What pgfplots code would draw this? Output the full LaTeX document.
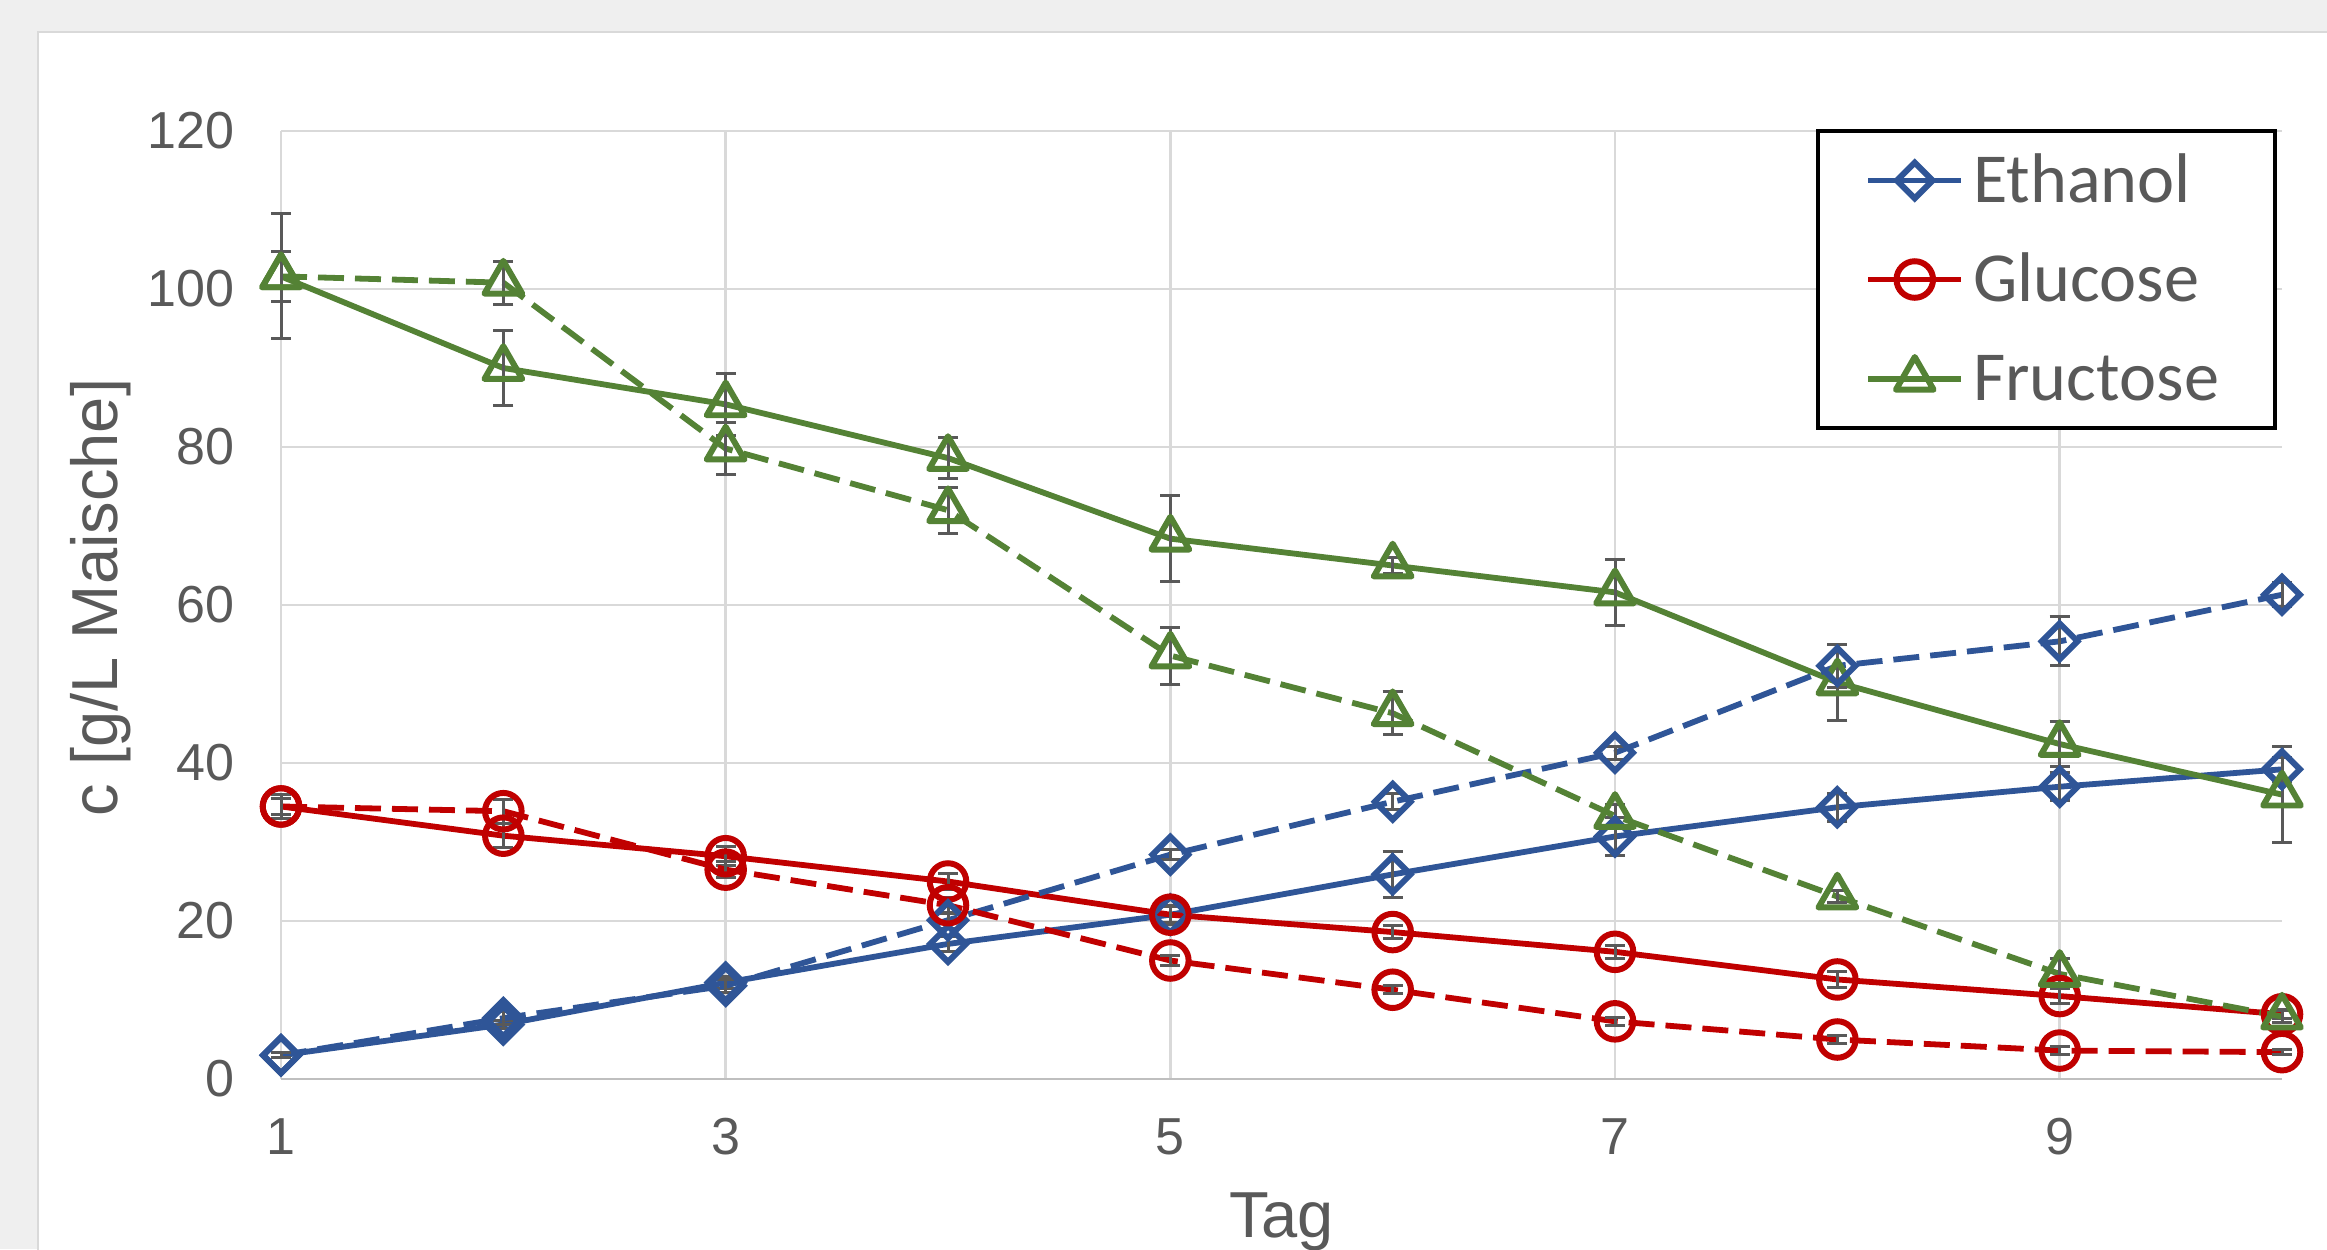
\documentclass[border=0pt]{standalone}
\usepackage{pgfplots}
\pgfplotsset{compat=1.18}
\usepackage{fontspec}
\setmainfont{Liberation Sans}
\newfontfamily\legendfont{Carlito}
\definecolor{cblue}{HTML}{2F5597}
\definecolor{cred}{HTML}{C00000}
\definecolor{cgreen}{HTML}{548235}
\definecolor{tgray}{HTML}{595959}
\definecolor{errgray}{HTML}{595959}
\definecolor{ggray}{HTML}{D9D9D9}
\definecolor{agray}{HTML}{BFBFBF}
\definecolor{bggray}{HTML}{EFEFEF}

\pgfplotstableread{
x y e
1 3.0 0.3
2 6.9 0.5
3 12.2 0.8
4 17.1 1.0
5 20.8 1.0
6 25.9 2.9
7 30.7 2.4
8 34.4 1.8
9 37.0 1.8
10 39.2 1.5
}\ethS
\pgfplotstableread{
x y e
1 3.0 0.3
2 7.7 0.8
3 11.8 0.8
4 20.1 1.0
5 28.4 0.6
6 35.1 1.0
7 41.3 0.8
8 52.3 2.7
9 55.4 3.1
10 61.3 1.5
}\ethD
\pgfplotstableread{
x y e
1 34.5 1.5
2 30.8 1.5
3 28.2 1.2
4 25.0 1.0
5 20.8 1.2
6 18.6 0.8
7 16.1 0.8
8 12.6 1.0
9 10.5 1.0
10 8.2 0.6
}\gluS
\pgfplotstableread{
x y e
1 34.5 1.0
2 33.9 1.5
3 26.5 1.0
4 22.0 1.0
5 15.0 0.6
6 11.3 0.5
7 7.3 0.5
8 5.0 0.5
9 3.6 0.5
10 3.4 0.3
}\gluD
\pgfplotstableread{
x y e
1 101.6 7.9
2 90.0 4.7
3 85.4 3.9
4 78.6 2.6
5 68.4 5.4
6 65.0 1.0
7 61.6 4.2
8 50.2 4.8
9 42.4 2.9
10 36.0 6.1
}\fruS
\pgfplotstableread{
x y e
1 101.6 3.2
2 100.8 2.7
3 79.8 3.3
4 72.0 2.9
5 53.6 3.6
6 46.3 2.7
7 33.3 1.5
8 23.1 0.8
9 13.3 1.9
10 7.9 0.8
}\fruD

\pgfplotsset{
  errstyle/.style={
    error bars/.cd, y dir=both, y explicit,
    error bar style={errgray, line width=0.3mm, solid},
    error mark options={rotate=90, errgray, mark size=1mm, line width=0.3mm, solid},
    /pgfplots/.cd
  },
  dia/.style={mark=square, mark size=3.6pt, mark options={rotate=45, solid, line width=1.7pt}},
  cir/.style={mark=o, mark size=5.2pt, mark options={solid, line width=1.7pt}},
  tri/.style={mark=triangle, mark size=6.2pt, mark options={solid, line width=1.7pt, line join=round}},
  dsh/.style={dash pattern=on 2.6mm off 1.1mm},
}

\begin{document}
\begin{tikzpicture}
\fill[bggray] (0,0) rectangle (232.7mm,124.9mm);
\useasboundingbox (0,0) rectangle (232.7mm,124.9mm);
\filldraw[fill=white, draw=ggray, line width=0.25mm] (3.8mm,-5mm) rectangle (240mm,121.7mm);
\begin{axis}[
  at={(28.1mm,17.0mm)}, anchor=south west,
  scale only axis, width=200.1mm, height=94.8mm,
  xmin=1, xmax=10, ymin=0, ymax=120,
  xtick={1,3,5,7,9}, ytick={0,20,...,120},
  clip=false,
  axis x line*=bottom, axis y line*=left,
  axis line style={-},
  every outer x axis line/.append style={-, draw=agray, line width=0.27mm},
  every outer y axis line/.append style={-, draw=none},
  major tick length=0pt,
  grid=major, major grid style={draw=ggray, line width=0.27mm},
  tick label style={font=\fontsize{14.8}{17}\selectfont, text=tgray},
  /pgf/number format/assume math mode=true,
  xticklabel style={yshift=-2.7mm},
  yticklabel style={xshift=-3.4mm},
  label style={font=\fontsize{18.5}{22}\selectfont, text=tgray},
  xlabel={Tag}, ylabel={c [g/L Maische]},
  xlabel style={at={(axis description cs:0.5,-0.1667)}, anchor=base},
  ylabel style={at={(axis description cs:-0.0815,0.508)}, anchor=base},
  legend cell align=left,
  legend style={at={(1,1)}, anchor=north east, xshift=-0.5mm, yshift=0.2mm,
    draw=black, line width=0.4mm, fill=white,
    inner xsep=4.7mm, inner ysep=2.8mm, row sep=5.6mm,
    font=\legendfont\fontsize{20}{24}\selectfont, text=tgray,
    nodes={inner xsep=0.9mm, inner ysep=0pt, text height=4.3mm, text depth=0pt}},
  legend image code/.code={\draw[mark repeat=2, mark phase=2, #1] plot coordinates {(0mm,0mm) (4.65mm,0mm) (9.3mm,0mm)};},
]
\addplot[cblue, line width=1.65pt, dia, errstyle] table[x=x, y=y, y error=e] {\ethS};
\addlegendentry{Ethanol}
\addplot[cred, line width=1.65pt, cir, errstyle] table[x=x, y=y, y error=e] {\gluS};
\addlegendentry{Glucose}
\addplot[cgreen, line width=1.65pt, tri, errstyle] table[x=x, y=y, y error=e] {\fruS};
\addlegendentry{Fructose}
\addplot[forget plot, cblue, line width=1.65pt, dsh, dia, errstyle] table[x=x, y=y, y error=e] {\ethD};
\addplot[forget plot, cred, line width=1.65pt, dsh, cir, errstyle] table[x=x, y=y, y error=e] {\gluD};
\addplot[forget plot, cgreen, line width=1.65pt, dsh, tri, errstyle] table[x=x, y=y, y error=e] {\fruD};
\end{axis}
\end{tikzpicture}
\end{document}
